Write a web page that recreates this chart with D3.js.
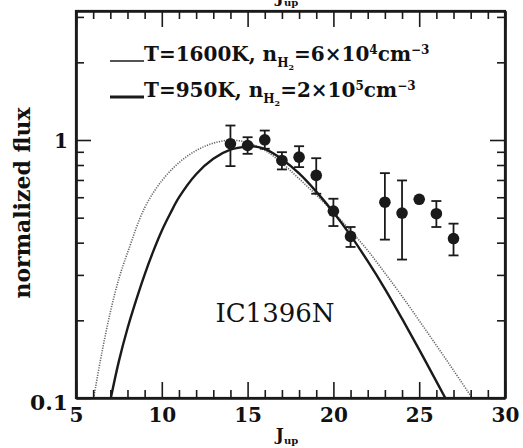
<!DOCTYPE html>
<html><head><meta charset="utf-8">
<script src="https://cdn.jsdelivr.net/npm/d3@7"></script>
<style>
html,body{margin:0;padding:0;background:#fff;}
svg{display:block;}
text{font-family:"DejaVu Serif","Liberation Serif",serif;fill:#111;}
</style></head>
<body>
<svg id="c" width="523" height="448"></svg>
<script>
// ---- data ----
const obsJ    = [14, 15, 16, 17, 18, 19, 20, 21, 23, 24, 25, 26, 27];
const obsFlux = [0.967, 0.952, 1.002, 0.833, 0.858, 0.729, 0.530, 0.423, 0.574, 0.521, 0.589, 0.518, 0.415];
const obsHi   = [1.138, 1.025, 1.088, 0.897, 0.946, 0.850, 0.592, 0.460, 0.744, 0.697, null, 0.580, 0.474];
const obsLo   = [0.792, 0.884, 0.925, 0.769, 0.785, 0.619, 0.464, 0.385, 0.411, 0.344, null, 0.460, 0.357];

// T=1600K model (dotted)
const hotJ    = [6.03, 6.5, 7, 7.5, 8, 9, 10, 11, 12, 13, 14, 15, 16, 17, 18, 19, 20, 21, 22, 23, 24, 25, 26, 27, 28, 28.09];
const hotFlux = [0.1, 0.149, 0.215, 0.29, 0.365, 0.546, 0.695, 0.817, 0.91, 0.972, 0.998, 0.977, 0.912, 0.814, 0.708, 0.612, 0.525, 0.445, 0.373, 0.305, 0.248, 0.1995, 0.16, 0.128, 0.102, 0.1];

// T=950K model (solid)
const coolJ    = [7.03, 7.5, 8, 8.5, 9, 9.5, 10, 10.5, 11, 12, 13, 14, 15, 15.3, 16, 17, 18, 19, 20, 21, 22, 23, 24, 25, 26, 26.52];
const coolFlux = [0.1, 0.139, 0.186, 0.239, 0.301, 0.370, 0.445, 0.52, 0.599, 0.737, 0.846, 0.917, 0.945, 0.946, 0.923, 0.842, 0.742, 0.631, 0.525, 0.427, 0.339, 0.265, 0.203, 0.154, 0.116, 0.1];

const xMajor = [5, 10, 15, 20, 25, 30];
const xMinor = d3.range(5, 31, 1);
const yMajor = [0.1, 1];
const yMinor = [0.2, 0.3, 0.4, 0.5, 0.6, 0.7, 0.8, 0.9, 2, 3];
const yTickLabels = ["0.1", "1"];
const legendLabels = ["T=1600K, ", "T=950K, "];
const legendDens = [["6", "4"], ["2", "5"]];
const sourceName = "IC1396N";

// ---- layout ----
const svg = d3.select("#c");
const L = 76, R = 505, T = 11, B = 398;
const x = d3.scaleLinear().domain([5, 30]).range([L, R]);
const y = d3.scaleLog().domain([0.1, Math.sqrt(10)]).range([B, T]);

const ink = "#1a1a1a";

// curves
const line = d3.line().x(d => x(d[0])).y(d => y(d[1])).curve(d3.curveCatmullRom.alpha(0.5));
svg.append("path").datum(hotJ.map((j, i) => [j, hotFlux[i]]))
  .attr("d", line).attr("fill", "none").attr("stroke", "#666")
  .attr("stroke-width", 1.6).attr("stroke-dasharray", "1.2,1.3");
svg.append("path").datum(coolJ.map((j, i) => [j, coolFlux[i]]))
  .attr("d", line).attr("fill", "none").attr("stroke", ink)
  .attr("stroke-width", 2.4);

// error bars
const eb = svg.append("g").attr("stroke", ink).attr("stroke-width", 1.8);
obsJ.forEach((j, i) => {
  if (obsHi[i] == null) return;
  const cx = x(j);
  eb.append("line").attr("x1", cx).attr("x2", cx).attr("y1", y(obsHi[i])).attr("y2", y(obsLo[i]));
  eb.append("line").attr("x1", cx - 5).attr("x2", cx + 5).attr("y1", y(obsHi[i])).attr("y2", y(obsHi[i]));
  eb.append("line").attr("x1", cx - 5).attr("x2", cx + 5).attr("y1", y(obsLo[i])).attr("y2", y(obsLo[i]));
});
svg.append("g").selectAll("circle").data(obsJ).join("circle")
  .attr("cx", d => x(d)).attr("cy", (d, i) => y(obsFlux[i])).attr("r", 5.8).attr("fill", ink);

// axes (frame with ticks on all sides)
const axG = svg.append("g");
const addAxis = (axis, tr) => {
  const g = axG.append("g").attr("transform", tr).call(axis);
  g.select(".domain").attr("stroke", ink).attr("stroke-width", 2.2);
  g.selectAll(".tick line").attr("stroke", ink).attr("stroke-width", 1.6);
  return g;
};
// bottom
const bot = addAxis(d3.axisTop(x).tickValues(xMajor).tickSize(16).tickSizeOuter(0).tickFormat(d3.format("d")), `translate(0,${B})`);
bot.selectAll(".tick text").attr("y", 24).attr("dy", 0)
  .style("font-size", "20px").style("font-weight", "bold").attr("fill", ink);
addAxis(d3.axisTop(x).tickValues(xMinor.filter(v => v % 5)).tickSize(8).tickSizeOuter(0).tickFormat(""), `translate(0,${B})`);
// top
addAxis(d3.axisBottom(x).tickValues(xMajor).tickSize(16).tickSizeOuter(0).tickFormat(""), `translate(0,${T})`);
addAxis(d3.axisBottom(x).tickValues(xMinor.filter(v => v % 5)).tickSize(8).tickSizeOuter(0).tickFormat(""), `translate(0,${T})`);
// left
const lef = addAxis(d3.axisRight(y).tickValues(yMajor).tickSize(15).tickSizeOuter(0).tickFormat((d, i) => yTickLabels[i]), `translate(${L},0)`);
lef.selectAll(".tick text").attr("x", -8).attr("text-anchor", "end").attr("dy", "0.35em")
  .style("font-size", "20px").style("font-weight", "bold").attr("fill", ink);
lef.selectAll(".tick").filter(d => d === 0.1).select("text").attr("dy", "0.55em")
  .attr("textLength", 38).attr("lengthAdjust", "spacingAndGlyphs");
addAxis(d3.axisRight(y).tickValues(yMinor).tickSize(8).tickSizeOuter(0).tickFormat(""), `translate(${L},0)`);
// right
addAxis(d3.axisLeft(y).tickValues(yMajor).tickSize(15).tickSizeOuter(0).tickFormat(""), `translate(${R},0)`);
addAxis(d3.axisLeft(y).tickValues(yMinor).tickSize(8).tickSizeOuter(0).tickFormat(""), `translate(${R},0)`);
axG.selectAll("text").style("font-family", "'DejaVu Serif',serif");

// frame closure
svg.append("rect").attr("x", L).attr("y", T).attr("width", R - L).attr("height", B - T)
  .attr("fill", "none").attr("stroke", ink).attr("stroke-width", 2.2);

// axis titles
const xt = svg.append("text").attr("x", 287).attr("y", 440).attr("text-anchor", "middle")
  .style("font-size", "17px").style("font-weight", "bold");
xt.append("tspan").text("J");
xt.append("tspan").attr("dy", 4).style("font-size", "10px").text("up");
// top title (cut off by the page edge, as in the original)
const xt2 = svg.append("text").attr("x", 287).attr("y", 2).attr("text-anchor", "middle")
  .style("font-size", "17px").style("font-weight", "bold");
xt2.append("tspan").text("J");
xt2.append("tspan").attr("dy", 4).style("font-size", "10px").text("up");

svg.append("text").attr("transform", "translate(30,203) rotate(-90)").attr("text-anchor", "middle")
  .style("font-size", "22px").style("font-weight", "bold").text("normalized flux");

// legend
const legY = [61, 97];
const legW = [1.3, 3.2];
legendLabels.forEach((lab, i) => {
  svg.append("line").attr("x1", 110).attr("x2", 144).attr("y1", legY[i]).attr("y2", legY[i])
    .attr("stroke", ink).attr("stroke-width", legW[i]);
  const t = svg.append("text").attr("x", 144).attr("y", legY[i])
    .style("font-size", "20px").style("font-weight", "bold");
  t.append("tspan").text(lab + "n");
  t.append("tspan").attr("dy", 6).style("font-size", "12px").text("H");
  t.append("tspan").attr("dy", 3).style("font-size", "8px").text("2");
  t.append("tspan").attr("dy", -9).text("=" + legendDens[i][0] + "×10");
  t.append("tspan").attr("dy", -7).style("font-size", "12px").text(legendDens[i][1]);
  t.append("tspan").attr("dy", 7).text("cm");
  t.append("tspan").attr("dy", -7).style("font-size", "12px").text("−3");
});

svg.append("text").attr("x", 275).attr("y", 322).attr("text-anchor", "middle")
  .style("font-size", "26px").text(sourceName);
</script>
</body></html>
